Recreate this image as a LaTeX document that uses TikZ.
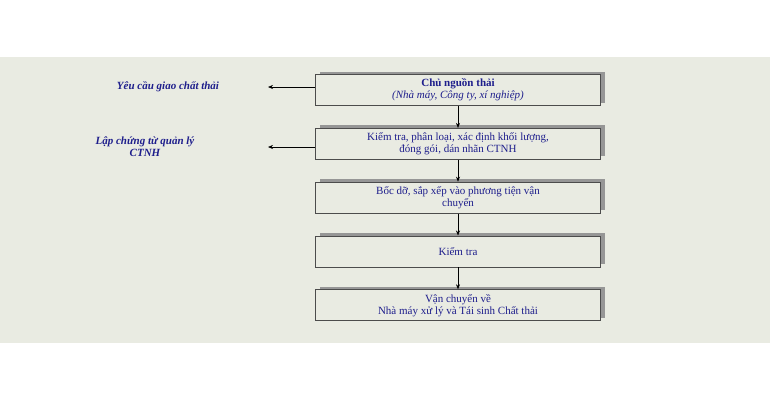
\documentclass[tikz,border=0pt]{standalone}
\usepackage{fontspec}
\setmainfont{Liberation Serif}
\usetikzlibrary{positioning,arrows.meta}
\definecolor{bandbg}{RGB}{233,235,226}
\definecolor{txtblue}{RGB}{30,30,140}
\definecolor{shadowgrey}{RGB}{150,150,150}
\tikzset{
  stepbox/.style={draw=black!70, line width=0.8pt, fill=bandbg, minimum width=285pt, minimum height=31pt,
    align=center, text=txtblue, font=\fontsize{11}{12}\selectfont, inner sep=1pt,
    preaction={fill=shadowgrey, transform canvas={xshift=4pt, yshift=3pt}}},
  sidelabel/.style={align=center, text=txtblue, font=\fontsize{11}{12}\selectfont\bfseries\itshape},
  flow/.style={-{Stealth[length=5pt,width=4pt]}, line width=0.6pt}
}
\begin{document}
\begin{tikzpicture}[x=1pt,y=1pt]
  \useasboundingbox (0,0) rectangle (770,400);
  \fill[bandbg] (0,57) rectangle (770,343);
  % flow boxes
  \node[stepbox] (owner) at (458,310) {\textbf{Chủ nguồn thải}\\ \textit{(Nhà máy, Công ty, xí nghiệp)}};
  \node[stepbox, below=22pt of owner] (check) {Kiểm tra, phân loại, xác định khối lượng,\\ đóng gói, dán nhãn CTNH};
  \node[stepbox, below=22pt of check] (load) {Bốc dỡ, sắp xếp vào phương tiện vận\\ chuyển};
  \node[stepbox, below=22pt of load] (inspect) {Kiểm tra};
  \node[stepbox, below=22pt of inspect] (ship) {Vận chuyển về\\ Nhà máy xử lý và Tái sinh Chất thải};
  % side labels
  \node[sidelabel] (request) at (168,313) {Yêu cầu giao chất thải};
  \node[sidelabel] (papers) at (145,253) {Lập chứng từ quản lý\\ CTNH};
  \coordinate (reqend) at (268,313);
  \coordinate (papend) at (268,253);
  \draw[flow] (owner.west |- reqend) -- (reqend);
  \draw[flow] (check.west |- papend) -- (papend);
  \foreach \a/\b in {owner/check, check/load, load/inspect, inspect/ship}
    \draw[flow] (\a) -- (\b);
\end{tikzpicture}
\end{document}
